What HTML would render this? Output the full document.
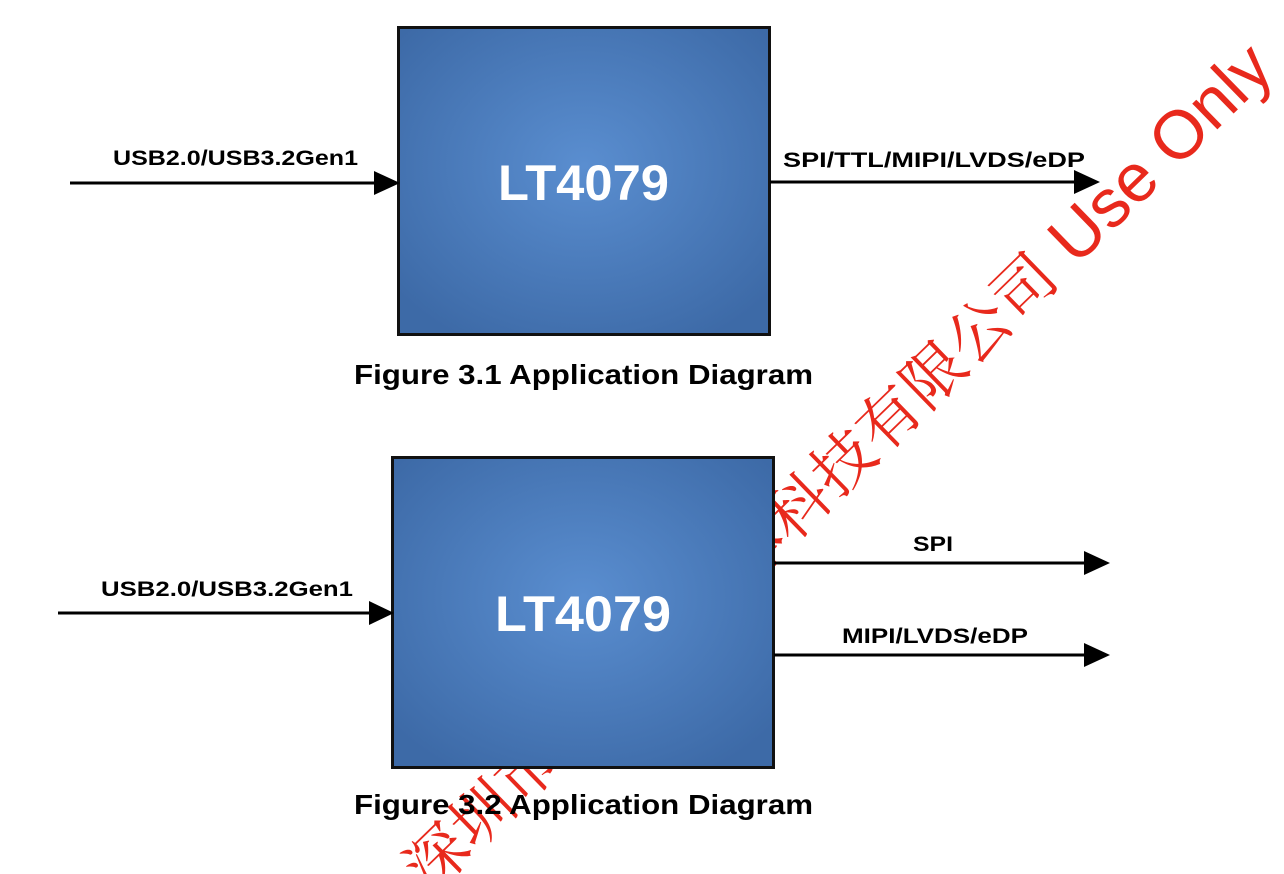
<!DOCTYPE html>
<html><head><meta charset="utf-8"><style>
html,body{margin:0;padding:0;background:#fff;width:1284px;height:874px;overflow:hidden}
</style></head><body>
<svg width="1284" height="874" viewBox="0 0 1284 874" xmlns="http://www.w3.org/2000/svg" style="display:block">
<defs>
<radialGradient id="g" cx="50%" cy="45%" r="65%">
<stop offset="0" stop-color="#5a8ed0"/><stop offset="1" stop-color="#3d6aa7"/>
</radialGradient>
</defs>
<text transform="translate(430,895) rotate(-44.2)" font-family="'Noto Serif CJK SC','Liberation Serif',serif" font-size="62" letter-spacing="1" fill="#e8291c">深圳市龙迅半导体科技有限公司<tspan font-family="'Liberation Sans',sans-serif" font-size="68" letter-spacing="0"> Use Only</tspan></text>
<g font-family="'Liberation Sans',Arial,sans-serif" font-weight="bold">
<rect x="398.5" y="27.5" width="371" height="307" fill="url(#g)" stroke="#111" stroke-width="3"/>
<text x="498" y="200" font-size="50" fill="#fff" textLength="171" lengthAdjust="spacingAndGlyphs">LT4079</text>
<line x1="70" y1="183" x2="380" y2="183" stroke="#000" stroke-width="3"/>
<polygon points="374,171 400,183 374,195" fill="#000"/>
<text x="113" y="165" font-size="21" textLength="245" lengthAdjust="spacingAndGlyphs">USB2.0/USB3.2Gen1</text>
<line x1="770" y1="182" x2="1080" y2="182" stroke="#000" stroke-width="3"/>
<polygon points="1074,170 1100,182 1074,194" fill="#000"/>
<text x="783" y="167" font-size="21" textLength="302" lengthAdjust="spacingAndGlyphs">SPI/TTL/MIPI/LVDS/eDP</text>
<text x="354" y="384" font-size="28" textLength="459" lengthAdjust="spacingAndGlyphs">Figure 3.1  Application Diagram</text>

<rect x="392.5" y="457.5" width="381" height="310" fill="url(#g)" stroke="#111" stroke-width="3"/>
<text x="495" y="631" font-size="50" fill="#fff" textLength="176" lengthAdjust="spacingAndGlyphs">LT4079</text>
<line x1="58" y1="613" x2="375" y2="613" stroke="#000" stroke-width="3"/>
<polygon points="369,601 394,613 369,625" fill="#000"/>
<text x="101" y="596" font-size="21" textLength="252" lengthAdjust="spacingAndGlyphs">USB2.0/USB3.2Gen1</text>
<line x1="774" y1="563" x2="1090" y2="563" stroke="#000" stroke-width="3"/>
<polygon points="1084,551 1110,563 1084,575" fill="#000"/>
<text x="913" y="551" font-size="21" textLength="40" lengthAdjust="spacingAndGlyphs">SPI</text>
<line x1="774" y1="655" x2="1090" y2="655" stroke="#000" stroke-width="3"/>
<polygon points="1084,643 1110,655 1084,667" fill="#000"/>
<text x="842" y="643" font-size="21" textLength="186" lengthAdjust="spacingAndGlyphs">MIPI/LVDS/eDP</text>
<text x="354" y="814" font-size="28" textLength="459" lengthAdjust="spacingAndGlyphs">Figure 3.2  Application Diagram</text>
</g>
</svg>
</body></html>
